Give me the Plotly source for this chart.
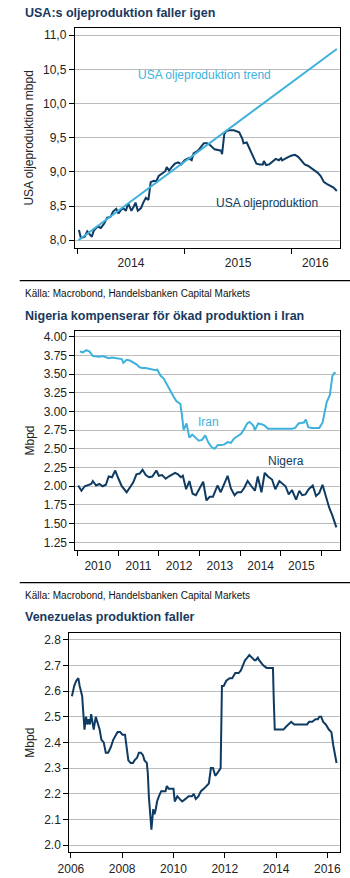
import plotly.graph_objects as go

# ---------------- DATA ----------------
# Chart 1: US oil production (mbpd), decimal years
usa_years = [2014.015, 2014.033, 2014.069, 2014.093, 2014.114, 2014.135, 2014.153, 2014.189, 2014.219,
             2014.249, 2014.279, 2014.309, 2014.333, 2014.363, 2014.384, 2014.405, 2014.429, 2014.453,
             2014.474, 2014.504, 2014.525, 2014.543, 2014.564, 2014.594, 2014.615, 2014.639, 2014.663,
             2014.684, 2014.714, 2014.735, 2014.759, 2014.789, 2014.820, 2014.834, 2014.856, 2014.880,
             2014.910, 2014.940, 2014.970, 2015.000, 2015.036, 2015.066, 2015.084, 2015.126, 2015.150,
             2015.180, 2015.210, 2015.240, 2015.28, 2015.33, 2015.34, 2015.35, 2015.37, 2015.39, 2015.42,
             2015.46, 2015.49, 2015.51, 2015.54, 2015.55, 2015.58, 2015.60, 2015.63, 2015.65, 2015.67,
             2015.70, 2015.73, 2015.74, 2015.76, 2015.79, 2015.81, 2015.83, 2015.85, 2015.88, 2015.90,
             2015.91, 2015.94, 2015.97, 2016.00, 2016.03, 2016.06, 2016.09, 2016.12, 2016.15, 2016.18,
             2016.21, 2016.24, 2016.27, 2016.30, 2016.33, 2016.36, 2016.39, 2016.42]
usa_values = [8.15, 8.03, 8.05, 8.13, 8.09, 8.05, 8.14, 8.20, 8.18,
              8.24, 8.33, 8.34, 8.42, 8.46, 8.39, 8.44, 8.47, 8.43,
              8.54, 8.43, 8.49, 8.55, 8.43, 8.47, 8.55, 8.62, 8.59,
              8.85, 8.87, 8.86, 8.94, 8.97, 9.01, 9.07, 9.02, 9.07,
              9.12, 9.14, 9.11, 9.17, 9.20, 9.17, 9.27, 9.31, 9.36,
              9.42, 9.42, 9.39, 9.33, 9.32, 9.31, 9.26, 9.55, 9.60, 9.61,
              9.61, 9.59, 9.58, 9.48, 9.42, 9.43, 9.36, 9.26, 9.17, 9.12,
              9.11, 9.11, 9.16, 9.10, 9.11, 9.14, 9.17, 9.19, 9.17, 9.20,
              9.17, 9.20, 9.22, 9.24, 9.25, 9.22, 9.17, 9.11, 9.09, 9.06,
              9.03, 8.99, 8.94, 8.85, 8.82, 8.80, 8.77, 8.72]
trend_years = [2014.01, 2016.42]
trend_values = [8.00, 10.80]
usa_y_ticks = [8.0, 8.5, 9.0, 9.5, 10.0, 10.5, 11.0]
usa_y_text = ["8,0", "8,5", "9,0", "9,5", "10,0", "10,5", "11,0"]
usa_year_bounds = [2014, 2015, 2016]
usa_label_pos = [2014.5, 2015.5, 2016.22]
usa_labels = ["2014", "2015", "2016"]

# Chart 2: Iran and Nigeria (Mbpd)
iran_years = [2010.06, 2010.14, 2010.22, 2010.30, 2010.38, 2010.46, 2010.54, 2010.62, 2010.70, 2010.77,
              2010.85, 2010.93, 2011.01, 2011.09, 2011.13, 2011.21, 2011.29, 2011.37, 2011.45, 2011.53,
              2011.60, 2011.68, 2011.76, 2011.84, 2011.92, 2011.96, 2012.04, 2012.12, 2012.20, 2012.28,
              2012.36, 2012.43, 2012.53, 2012.57, 2012.61, 2012.68, 2012.75, 2012.82, 2012.90, 2012.98,
              2013.06, 2013.14, 2013.22, 2013.30, 2013.37, 2013.45, 2013.53, 2013.61, 2013.69, 2013.77,
              2013.85, 2013.93, 2014.02, 2014.09, 2014.17, 2014.23, 2014.32, 2014.36, 2014.44, 2014.52,
              2014.60, 2014.68, 2014.80, 2014.88, 2014.96, 2015.03, 2015.15, 2015.27, 2015.35, 2015.43,
              2015.51, 2015.56, 2015.61, 2015.67, 2015.75, 2015.86, 2015.94, 2016.02, 2016.08, 2016.12,
              2016.20, 2016.26, 2016.30, 2016.34]
iran_values = [3.80, 3.79, 3.82, 3.80, 3.74, 3.73, 3.73, 3.74, 3.72, 3.71,
               3.72, 3.71, 3.71, 3.70, 3.65, 3.69, 3.68, 3.66, 3.63, 3.59,
               3.58, 3.58, 3.57, 3.56, 3.55, 3.56, 3.48, 3.44, 3.36, 3.26,
               3.20, 3.14, 3.10, 2.94, 2.75, 2.84, 2.65, 2.69, 2.65, 2.61,
               2.62, 2.68, 2.58, 2.52, 2.50, 2.55, 2.55, 2.56, 2.59, 2.58,
               2.64, 2.67, 2.70, 2.76, 2.84, 2.86, 2.81, 2.75, 2.84, 2.83,
               2.81, 2.77, 2.77, 2.77, 2.76, 2.77, 2.77, 2.77, 2.78, 2.84,
               2.85, 2.85, 2.89, 2.79, 2.78, 2.78, 2.78, 2.85, 3.02, 3.12,
               3.22, 3.47, 3.51, 3.52]
nigeria_years = [2010.02, 2010.10, 2010.18, 2010.26, 2010.34, 2010.38, 2010.46, 2010.54, 2010.62, 2010.70,
                 2010.77, 2010.85, 2010.93, 2011.01, 2011.09, 2011.21, 2011.29, 2011.37, 2011.45, 2011.53,
                 2011.60, 2011.68, 2011.76, 2011.84, 2011.94, 2012.00, 2012.08, 2012.17, 2012.24, 2012.32,
                 2012.40, 2012.47, 2012.54, 2012.59, 2012.67, 2012.75, 2012.83, 2012.91, 2012.99, 2013.09,
                 2013.17, 2013.25, 2013.33, 2013.44, 2013.52, 2013.60, 2013.69, 2013.77, 2013.86, 2013.93,
                 2014.02, 2014.10, 2014.18, 2014.26, 2014.36, 2014.43, 2014.52, 2014.60, 2014.68, 2014.78,
                 2014.86, 2014.96, 2015.03, 2015.11, 2015.19, 2015.27, 2015.37, 2015.45, 2015.52, 2015.60,
                 2015.68, 2015.78, 2015.86, 2015.94, 2016.02, 2016.10, 2016.18, 2016.26, 2016.36]
nigeria_values = [2.01, 1.94, 2.00, 2.02, 2.03, 2.07, 2.01, 2.03, 2.00, 2.02,
                  2.13, 2.12, 2.21, 2.10, 2.00, 1.92, 1.98, 2.05, 2.16, 2.17,
                  2.22, 2.15, 2.12, 2.13, 2.21, 2.14, 2.15, 2.10, 2.13, 2.16,
                  2.18, 2.16, 2.12, 2.14, 1.96, 2.07, 1.90, 1.88, 1.96, 2.06,
                  1.81, 1.86, 1.86, 2.01, 1.92, 2.03, 2.14, 1.97, 1.88, 1.92,
                  1.92, 1.98, 2.07, 2.01, 1.94, 2.13, 1.92, 2.18, 2.13, 2.09,
                  1.96, 2.07, 2.04, 2.00, 1.89, 1.95, 1.82, 1.94, 1.88, 1.89,
                  1.96, 2.01, 1.87, 1.91, 2.02, 1.87, 1.72, 1.61, 1.45]
mid_year_pos = [2010.5, 2011.5, 2012.5, 2013.5, 2014.5, 2015.5]
mid_year_labels = ["2010", "2011", "2012", "2013", "2014", "2015"]
year_bounds_2 = [2010, 2011, 2012, 2013, 2014, 2015, 2016]

# Chart 3: Venezuela (Mbpd)
ven_years = [2006.04, 2006.13, 2006.21, 2006.29, 2006.34, 2006.38, 2006.44, 2006.48, 2006.53, 2006.59,
             2006.64, 2006.69, 2006.74, 2006.79, 2006.84, 2006.89, 2006.97, 2007.04, 2007.12, 2007.19,
             2007.28, 2007.36, 2007.45, 2007.55, 2007.65, 2007.76, 2007.82, 2007.92, 2008.01, 2008.11,
             2008.18, 2008.24, 2008.33, 2008.42, 2008.48, 2008.58, 2008.65, 2008.73, 2008.81, 2008.87,
             2008.96, 2009.00, 2009.04, 2009.09, 2009.14, 2009.21, 2009.26, 2009.31, 2009.36, 2009.43,
             2009.52, 2009.61, 2009.69, 2009.74, 2009.81, 2009.94, 2010.00, 2010.05, 2010.15, 2010.24,
             2010.34, 2010.47, 2010.59, 2010.72, 2010.79, 2010.87, 2010.97, 2011.07, 2011.19, 2011.38,
             2011.46, 2011.54, 2011.63, 2011.71, 2011.79, 2011.84, 2011.89, 2011.96, 2012.06, 2012.19,
             2012.29, 2012.41, 2012.54, 2012.63, 2012.71, 2012.79, 2012.88, 2012.96, 2013.06, 2013.16,
             2013.21, 2013.29, 2013.34, 2013.41, 2013.50, 2013.63, 2013.75, 2013.88, 2013.91, 2013.95,
             2014.13, 2014.29, 2014.38, 2014.50, 2014.59, 2014.71, 2014.88, 2015.06, 2015.21, 2015.29,
             2015.41, 2015.54, 2015.63, 2015.69, 2015.76, 2015.84, 2015.94, 2016.06, 2016.16, 2016.23,
             2016.29, 2016.36]
ven_values = [2.58, 2.62, 2.64, 2.65, 2.62, 2.60, 2.58, 2.52, 2.45, 2.50,
              2.47, 2.49, 2.47, 2.51, 2.48, 2.45, 2.50, 2.48, 2.45, 2.41,
              2.40, 2.36, 2.36, 2.38, 2.41, 2.43, 2.44, 2.44, 2.43, 2.43,
              2.38, 2.33, 2.32, 2.32, 2.33, 2.34, 2.36, 2.36, 2.35, 2.33,
              2.32, 2.28, 2.19, 2.11, 2.06, 2.14, 2.12, 2.14, 2.17, 2.19,
              2.21, 2.21, 2.21, 2.23, 2.22, 2.22, 2.22, 2.17, 2.19, 2.18,
              2.17, 2.18, 2.19, 2.19, 2.20, 2.18, 2.19, 2.21, 2.22, 2.24,
              2.30, 2.30, 2.27, 2.28, 2.29, 2.30, 2.62, 2.62, 2.64, 2.65,
              2.65, 2.67, 2.67, 2.68, 2.70, 2.72, 2.73, 2.74, 2.73, 2.72,
              2.72, 2.73, 2.72, 2.71, 2.70, 2.69, 2.69, 2.69, 2.57, 2.45,
              2.45, 2.45, 2.46, 2.47, 2.48, 2.47, 2.47, 2.47, 2.47, 2.48,
              2.48, 2.49, 2.49, 2.50, 2.50, 2.48, 2.47, 2.45, 2.44, 2.39,
              2.36, 2.32]
ven_x_ticks = [2006, 2008, 2010, 2012, 2014, 2016]

# ---------------- STYLE ----------------
W, H = 350, 878
NAVY = "#0f3b62"
LIGHT = "#3eb1dc"
TITLE = "#18395e"
GRID = "#bcbcbc"
TXT = "#222222"
FONT = "Liberation Sans, Arial, sans-serif"


def fx(p):
    return p / W


def fy(p):
    return 1 - p / H


fig = go.Figure()
fig.add_trace(go.Scatter(x=usa_years, y=usa_values, mode="lines", line=dict(color=NAVY, width=2),
                         xaxis="x", yaxis="y", hoverinfo="skip"))
fig.add_trace(go.Scatter(x=trend_years, y=trend_values, mode="lines", line=dict(color=LIGHT, width=2),
                         xaxis="x", yaxis="y", hoverinfo="skip"))
fig.add_trace(go.Scatter(x=iran_years, y=iran_values, mode="lines", line=dict(color=LIGHT, width=2),
                         xaxis="x2", yaxis="y2", hoverinfo="skip"))
fig.add_trace(go.Scatter(x=nigeria_years, y=nigeria_values, mode="lines", line=dict(color=NAVY, width=2),
                         xaxis="x2", yaxis="y2", hoverinfo="skip"))
fig.add_trace(go.Scatter(x=ven_years, y=ven_values, mode="lines", line=dict(color=NAVY, width=2),
                         xaxis="x3", yaxis="y3", hoverinfo="skip"))

common_x = dict(showline=True, mirror=True, linecolor="black", linewidth=1, showgrid=False,
                zeroline=False, tickfont=dict(size=12, color=TXT), fixedrange=True)
common_y = dict(showline=True, mirror=True, linecolor="black", linewidth=1, showgrid=True,
                gridcolor=GRID, gridwidth=1, zeroline=False, ticks="outside", ticklen=5,
                tickcolor="black", tickfont=dict(size=12, color=TXT), fixedrange=True)

fig.update_layout(
    width=W, height=H, margin=dict(l=0, r=0, t=0, b=0), showlegend=False,
    plot_bgcolor="white", paper_bgcolor="white",
    font=dict(family=FONT, size=12, color=TXT),
    xaxis=dict(common_x, domain=[fx(65), fx(340)], range=[2013.976, 2016.453], anchor="y",
               tickmode="array", tickvals=usa_label_pos, ticktext=usa_labels,
               ticks="outside", ticklen=4, tickcolor="rgba(0,0,0,0)",
               minor=dict(tickmode="array", tickvals=usa_year_bounds, ticks="outside", ticklen=5,
                          tickcolor="black", showgrid=False)),
    yaxis=dict(common_y, domain=[fy(247), fy(27)], range=[7.89, 11.107], anchor="x",
               tickmode="array", tickvals=usa_y_ticks, ticktext=usa_y_text,
               title=dict(text="USA oljeproduktion mbpd", font=dict(size=12, color=TXT), standoff=6)),
    xaxis2=dict(common_x, domain=[fx(65.7), fx(340)], range=[2009.953, 2016.457], anchor="y2",
                tickmode="array", tickvals=mid_year_pos, ticktext=mid_year_labels,
                ticks="outside", ticklen=4, tickcolor="rgba(0,0,0,0)",
                minor=dict(tickmode="array", tickvals=year_bounds_2, ticks="outside", ticklen=5,
                           tickcolor="black", showgrid=False)),
    yaxis2=dict(common_y, domain=[fy(550), fy(330)], range=[1.143, 4.08], anchor="x2",
                tickmode="linear", tick0=1.25, dtick=0.25, tickformat=".2f",
                title=dict(text="Mbpd", font=dict(size=12, color=TXT), standoff=6)),
    xaxis3=dict(common_x, domain=[fx(59.3), fx(340)], range=[2005.936, 2016.508], anchor="y3",
                tickmode="array", tickvals=ven_x_ticks, ticktext=[str(v) for v in ven_x_ticks],
                ticks="outside", ticklen=5, tickcolor="black"),
    yaxis3=dict(common_y, domain=[fy(852.3), fy(632.7)], range=[1.972, 2.826], anchor="x3",
                tickmode="linear", tick0=2.0, dtick=0.1, tickformat=".1f",
                title=dict(text="Mbpd", font=dict(size=12, color=TXT), standoff=6)),
)

# Titles, source notes
titles = [("USA:s oljeproduktion faller igen", 12),
          ("Nigeria kompenserar för ökad produktion i Iran", 315),
          ("Venezuelas produktion faller", 617)]
for text, ypx in titles:
    fig.add_annotation(text="<b>" + text + "</b>", xref="paper", yref="paper", x=fx(11), y=fy(ypx),
                       xanchor="left", yanchor="middle", showarrow=False,
                       font=dict(size=12.5, color=TITLE, family=FONT))
for ypx in [293.3, 595]:
    fig.add_annotation(text="Källa: Macrobond, Handelsbanken Capital Markets", xref="paper", yref="paper",
                       x=fx(11), y=fy(ypx), xanchor="left", yanchor="middle", showarrow=False,
                       font=dict(size=10, color="#111111", family=FONT))

# Series labels
fig.add_annotation(text="USA oljeproduktion trend", xref="x", yref="y", x=2015.19, y=10.42,
                   showarrow=False, font=dict(size=12, color=LIGHT))
fig.add_annotation(text="USA oljeproduktion", xref="x", yref="y", x=2015.77, y=8.54,
                   showarrow=False, font=dict(size=12, color=NAVY))
fig.add_annotation(text="Iran", xref="x2", yref="y2", x=2013.22, y=2.856,
                   showarrow=False, font=dict(size=12, color=LIGHT))
fig.add_annotation(text="Nigera", xref="x2", yref="y2", x=2015.13, y=2.335,
                   showarrow=False, font=dict(size=12, color=NAVY))

# Separator rules
for ypx in [280, 582.3]:
    fig.add_shape(type="line", xref="paper", yref="paper", x0=fx(8), x1=1, y0=fy(ypx), y1=fy(ypx),
                  line=dict(color="black", width=1.3))

fig.write_html("out.html")
